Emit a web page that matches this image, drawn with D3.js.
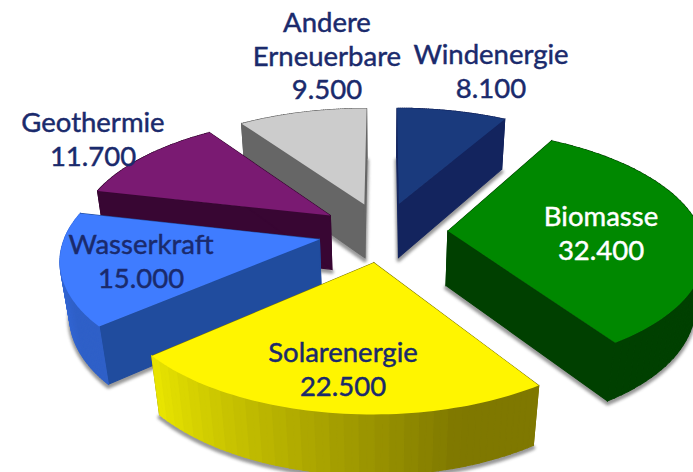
<!DOCTYPE html>
<html><head><meta charset="utf-8">
<script src="https://cdn.jsdelivr.net/npm/d3@7/dist/d3.min.js"></script>
<style>html,body{margin:0;padding:0;background:#fff;overflow:hidden}svg{display:block}
text{font-family:"Lato",sans-serif;font-size:27.5px;text-anchor:middle;stroke-width:.45px}</style>
</head><body><svg id="c" width="693" height="472"></svg>
<script>
const categories = ["Windenergie","Biomasse","Solarenergie","Wasserkraft","Geothermie","Andere Erneuerbare"];
const values = [8100,32400,22500,15000,11700,9500];
const topColors = ["#1a3a7d","#008800","#fff500","#3f7cff","#7a1a72","#cccccc"];
const sideColors = ["#13245e","#004000","#7f7800","#204c9e","#380633","#666666"];
const arcStart = ["#13245e","#004000","#7f7800","#2f60c8","#380633","#666666"];
const arcEnd = ["#13245e","#004000","#e8e400","#3c74f0","#380633","#666666"];
const textColors = ["#1a2a6c","#ffffff","#1a2a6c","#1a2a6c","#1a2a6c","#1a2a6c"];
const labelAnchors = [[491,64],[601,226],[343,362],[141,254],[93,132],[327,32]];
const drawOrder = [0,5,4,3,1,2];

const W=693,H=472,cx=383,cy=232,R=253,E=65,tilt=.46,persp=.00055,persp2=2.5e-7,depthY=56,depthW=.03,lineH=33.5;
const fmt = d3.formatLocale({decimal:",",thousands:".",grouping:[3]}).format(",d");
const svg = d3.select("#c");
const defs = svg.append("defs");
defs.append("filter").attr("id","sh").attr("x","-10%").attr("y","-10%").attr("width","120%").attr("height","125%")
  .append("feGaussianBlur").attr("stdDeviation",1.6);

function proj(X,Y,bottom){
  const d = 1 - persp*Y - (Y>0?persp2*Y*Y:0) + (bottom?depthW:0);
  return [cx + X/d, cy + (tilt*Y + (bottom?depthY:0))/d];
}
const arcs = d3.pie().sort(null).value(d=>d)(values);
const poly = pts => "M"+pts.map(p=>p.map(v=>v.toFixed(2)).join(",")).join("L")+"Z";

drawOrder.forEach(i=>{
  const a = arcs[i], mid=(a.startAngle+a.endAngle)/2;
  const ox=E*Math.sin(mid), oy=-E*Math.cos(mid);
  const pt=t=>[ox+R*Math.sin(t), oy-R*Math.cos(t)];
  const ang = d3.range(0,61).map(k=>a.startAngle+(a.endAngle-a.startAngle)*k/60);
  const g = svg.append("g");
  const base=[proj(ox,oy,1)].concat(ang.map(t=>{const p=pt(t);return proj(p[0],p[1],1);}));
  g.append("path").attr("d",poly(base)).attr("fill","#555").attr("stroke","#555").attr("stroke-width",4)
    .attr("stroke-linejoin","round").attr("opacity",.6).attr("transform","translate(0,2.5)").attr("filter","url(#sh)");
  const faces=[];
  const quad=(P,Q,col)=>faces.push({d:poly([proj(P[0],P[1]),proj(Q[0],Q[1]),proj(Q[0],Q[1],1),proj(P[0],P[1],1)]),
     col, y:Math.max(P[1],Q[1]) });
  quad([ox,oy],pt(a.startAngle),sideColors[i]);
  quad([ox,oy],pt(a.endAngle),sideColors[i]);
  const shade=d3.scaleLinear().domain([0,.2,1]).range([arcStart[i],arcStart[i],arcEnd[i]]);
  for(let k=0;k<60;k++) quad(pt(ang[k]),pt(ang[k+1]),shade(Math.floor(k/2)/29));
  faces.sort((u,v)=>u.y-v.y).forEach(q=>g.append("path").attr("d",q.d).attr("fill",q.col).attr("stroke",q.col).attr("stroke-width",1.1));
  const top=[proj(ox,oy)].concat(ang.map(t=>{const p=pt(t);return proj(p[0],p[1]);}));
  g.append("path").attr("d",poly(top)).attr("fill",topColors[i]);
});
// labels on top
arcs.forEach((a,i)=>{
  const lines=categories[i].split(" ").concat(fmt(values[i]));
  const [x,y]=labelAnchors[i];
  const t=svg.append("text").attr("fill",textColors[i]).attr("stroke",textColors[i]);
  lines.forEach((l,k)=>t.append("tspan").attr("x",x).attr("y",y+k*lineH).text(l));
});
</script></body></html>
